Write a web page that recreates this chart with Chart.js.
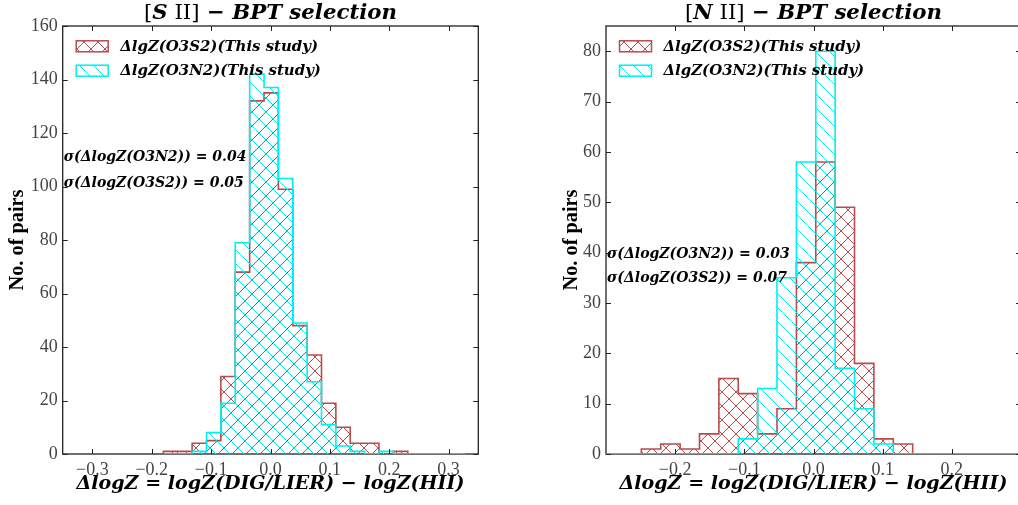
<!DOCTYPE html>
<html><head><meta charset="utf-8">
<script src="https://cdn.jsdelivr.net/npm/chart.js@4/dist/chart.umd.min.js"></script>
<style>
html,body{margin:0;padding:0;background:#fff;overflow:hidden;width:1018px;height:505px;position:relative}
#c1{position:absolute;left:0;top:0}
#c2{position:absolute;left:540px;top:0}
</style></head><body>
<canvas id="c1" width="500" height="505" style="width:500px;height:505px"></canvas>
<canvas id="c2" width="481" height="505" style="width:481px;height:505px"></canvas>
<script>
// ---------- data ----------
const seriesLabels = ['ΔlgZ(O3S2)(This study)', 'ΔlgZ(O3N2)(This study)'];
const xAxisTitle = 'ΔlogZ = logZ(DIG/LIER) − logZ(HII)';
const yAxisTitle = 'No. of pairs';

// [S II] panel: histogram bin edges and counts
const sEdges = [-0.1804,-0.1562,-0.1320,-0.1078,-0.0836,-0.0594,-0.0351,-0.0109,0.0133,0.0375,0.0617,0.0859,0.1101,0.1343,0.1585,0.1827,0.2070,0.2312,0.2554,0.2796,0.3038,0.3280];
const sO3S2 = [1,1,4,5,29,68,132,135,99,48,37,19,10,4,4,0,1,null,null,null,null];
const sO3N2 = [0,0,1,8,19,79,142,137,103,49,27,11,3,1,0,1,0,0,0,0,0];
const sXTicks = [-0.3,-0.2,-0.1,0.0,0.1,0.2,0.3];
const sYTicks = [0,20,40,60,80,100,120,140,160];
const sTitle = ['[', 'S', ' II', ']', ' − ', 'BPT selection'];
const sStats = ['σ(ΔlogZ(O3N2)) = 0.04', 'σ(ΔlogZ(O3S2)) = 0.05'];
const sStatsY = [111.0, 101.0];

// [N II] panel
const nEdges = [-0.3049,-0.2769,-0.2489,-0.2209,-0.1928,-0.1648,-0.1368,-0.1088,-0.0808,-0.0528,-0.0247,0.0033,0.0313,0.0593,0.0873,0.1154,0.1434,0.1714,0.1994,0.2274,0.2555,0.2835,0.3115];
const nO3S2 = [null,null,1,2,1,4,15,12,4,9,38,58,49,18,3,2,null,null,null,null,null,null];
const nO3N2 = [0,0,0,0,0,0,0,3,13,35,58,80,17,9,2,0,0,0,0,0,0,0];
const nXTicks = [-0.2,-0.1,0.0,0.1,0.2];
const nYTicks = [0,10,20,30,40,50,60,70,80];
const nTitle = ['[', 'N', ' II', ']', ' − ', 'BPT selection'];
const nStats = ['σ(ΔlogZ(O3N2)) = 0.03', 'σ(ΔlogZ(O3S2)) = 0.07'];
const nStatsY = [39.6, 34.8];

// ---------- styling ----------
const SERIF = '"Liberation Serif", "Times New Roman", serif';
const MATH = '"DejaVu Serif", serif';
const RED = '#b84c4c';
const CYAN = '#00f0f0';
const titleStyles = ['', 'bold italic ', '', '', 'bold ', 'bold italic '];

const mctx = document.createElement('canvas').getContext('2d');
function fitSize(text, style, family, target) {
  mctx.font = style + ' 100px ' + family;
  return 100 * target / mctx.measureText(text).width;
}
function fitParts(parts, styles, family, target) {
  let w = 0;
  parts.forEach((p, i) => { mctx.font = styles[i] + '100px ' + family; w += mctx.measureText(p).width; });
  return 100 * target / w;
}
const legendSize = fitSize(seriesLabels[0], 'bold italic', MATH, 198);
const statsSize = fitSize(sStats[0], 'bold italic', MATH, 183);
const xTitleSize = fitSize(xAxisTitle, 'bold italic', MATH, 388);
const yTitleSize = fitSize(yAxisTitle, 'bold', SERIF, 101);
const titleSize = fitParts(sTitle, titleStyles, MATH, 253);

function makeHatch(color, kind, size, lw) {
  const c = document.createElement('canvas');
  c.width = size; c.height = size;
  const g = c.getContext('2d');
  g.strokeStyle = color; g.lineWidth = lw;
  g.beginPath();
  for (const k of [-size, 0, size]) {
    if (kind.includes('\\')) { g.moveTo(k, 0); g.lineTo(k + size, size); }
    if (kind.includes('/')) { g.moveTo(k + size, 0); g.lineTo(k, size); }
  }
  g.stroke();
  return g.createPattern(c, 'repeat');
}

function stepPoints(edges, counts) {
  let first = counts.findIndex(v => v !== null);
  let last = counts.length - 1;
  while (counts[last] === null) last--;
  const pts = [{x: edges[first], y: 0}];
  for (let i = first; i <= last; i++) pts.push({x: edges[i], y: counts[i]});
  pts.push({x: edges[last + 1], y: counts[last]});
  pts.push({x: edges[last + 1], y: 0});
  return pts;
}

function fmt(v, dec) {
  const s = Math.abs(v).toFixed(dec);
  return (v < -1e-9 ? '−' : '') + s;
}

const framePlugin = {
  id: 'frameTicks',
  beforeDatasetsDraw(chart) {
    const {ctx, chartArea: a} = chart;
    ctx.save();
    ctx.strokeStyle = '#222'; ctx.lineWidth = 1.3;
    ctx.strokeRect(a.left, a.top, a.right - a.left, a.bottom - a.top);
    ctx.restore();
  },
  afterDatasetsDraw(chart) {
    const {ctx, chartArea: a, scales: {x, y}} = chart;
    ctx.save();
    ctx.strokeStyle = '#222'; ctx.lineWidth = 1;
    ctx.beginPath();
    const L = 5;
    x.ticks.forEach(t => {
      const p = Math.round(x.getPixelForValue(t.value)) + 0.5;
      ctx.moveTo(p, a.bottom); ctx.lineTo(p, a.bottom - L);
      ctx.moveTo(p, a.top); ctx.lineTo(p, a.top + L);
    });
    y.ticks.forEach(t => {
      const p = Math.round(y.getPixelForValue(t.value)) + 0.5;
      ctx.moveTo(a.left, p); ctx.lineTo(a.left + L, p);
      ctx.moveTo(a.right, p); ctx.lineTo(a.right - L, p);
    });
    ctx.stroke();
    ctx.restore();
  }
};

const annotPlugin = {
  id: 'annot',
  afterDraw(chart, args, opts) {
    const {ctx, chartArea: a, scales: {y}} = chart;
    ctx.save();
    // title with mixed styles
    const parts = opts.title;
    let total = 0;
    const widths = parts.map((p, i) => {
      ctx.font = titleStyles[i] + titleSize + 'px ' + MATH;
      const w = ctx.measureText(p).width; total += w; return w;
    });
    let tx = (a.left + a.right) / 2 - total / 2;
    ctx.fillStyle = '#000'; ctx.textBaseline = 'middle'; ctx.textAlign = 'left';
    parts.forEach((p, i) => {
      ctx.font = titleStyles[i] + titleSize + 'px ' + MATH;
      ctx.fillText(p, tx, 13);
      tx += widths[i];
    });
    // stats text
    ctx.font = 'bold italic ' + statsSize + 'px ' + MATH;
    opts.stats.forEach((s, i) => {
      ctx.fillText(s, a.left + 1, y.getPixelForValue(opts.statsY[i]));
    });
    // legend
    chart.data.datasets.forEach((ds, i) => {
      const x0 = a.left + 13.5, y0 = a.top + 14.8 + i * 24.4;
      ctx.fillStyle = ds.backgroundColor;
      ctx.fillRect(x0, y0, 32, 11);
      ctx.strokeStyle = ds.borderColor; ctx.lineWidth = 1.5;
      ctx.strokeRect(x0, y0, 32, 11);
      ctx.fillStyle = '#000';
      ctx.font = 'bold italic ' + legendSize + 'px ' + MATH;
      ctx.fillText(ds.label, a.left + 57.5, y0 + 6);
    });
    ctx.restore();
  }
};

function buildPanel(id, cfg) {
  const redPat = makeHatch(RED, '\\/', 14, 1);
  const cyanPat = makeHatch(CYAN, '\\', 14, 1);
  return new Chart(document.getElementById(id), {
    type: 'line',
    data: {
      datasets: [
        {label: seriesLabels[0], data: stepPoints(cfg.edges, cfg.red), borderColor: RED, backgroundColor: redPat,
         fill: 'origin', stepped: 'before', borderWidth: 1.6, pointRadius: 0, order: 1},
        {label: seriesLabels[1], data: stepPoints(cfg.edges, cfg.cyan), borderColor: CYAN, backgroundColor: cyanPat,
         fill: 'origin', stepped: 'before', borderWidth: 1.6, pointRadius: 0, order: 0}
      ]
    },
    options: {
      responsive: false, animation: false, events: [],
      layout: {padding: {top: 26, left: 0, right: cfg.padRight, bottom: 0}},
      plugins: {
        legend: {display: false}, tooltip: {enabled: false},
        annot: {title: cfg.title, stats: cfg.stats, statsY: cfg.statsY}
      },
      scales: {
        x: {
          type: 'linear', min: cfg.xmin, max: cfg.xmax,
          afterBuildTicks: s => { s.ticks = cfg.xticks.map(v => ({value: v})); },
          afterFit: s => { s.height = 51; },
          grid: {display: false, drawTicks: false}, border: {display: false},
          ticks: {font: {family: SERIF, size: 18}, color: '#444', padding: 5, maxRotation: 0, autoSkip: false,
                  callback: v => fmt(v, 1)},
          title: {display: true, text: xAxisTitle, color: '#000',
                  font: {family: MATH, size: xTitleSize, style: 'italic', weight: 'bold'}, padding: {top: 0, bottom: 10}}
        },
        y: {
          min: 0, max: cfg.ymax,
          afterBuildTicks: s => { s.ticks = cfg.yticks.map(v => ({value: v})); },
          afterFit: s => { s.width = cfg.yWidth; },
          grid: {display: false, drawTicks: false}, border: {display: false},
          ticks: {font: {family: SERIF, size: 18}, color: '#444', padding: 5, autoSkip: false,
                  callback: v => fmt(v, 0)},
          title: {display: true, text: yAxisTitle, color: '#000',
                  font: {family: SERIF, size: yTitleSize, weight: 'bold'}, padding: {top: cfg.yTitlePad, bottom: 0}}
        }
      }
    },
    plugins: [framePlugin, annotPlugin]
  });
}

buildPanel('c1', {edges: sEdges, red: sO3S2, cyan: sO3N2, xmin: -0.35, xmax: 0.35, ymax: 160,
  xticks: sXTicks, yticks: sYTicks, title: sTitle, stats: sStats, statsY: sStatsY,
  padRight: 21.7, yWidth: 62.7, yTitlePad: 6});
buildPanel('c2', {edges: nEdges, red: nO3S2, cyan: nO3N2, xmin: -0.3, xmax: 0.3, ymax: 85,
  xticks: nXTicks, yticks: nYTicks, title: nTitle, stats: nStats, statsY: nStatsY,
  padRight: 0, yWidth: 66, yTitlePad: 20});
</script>
</body></html>
